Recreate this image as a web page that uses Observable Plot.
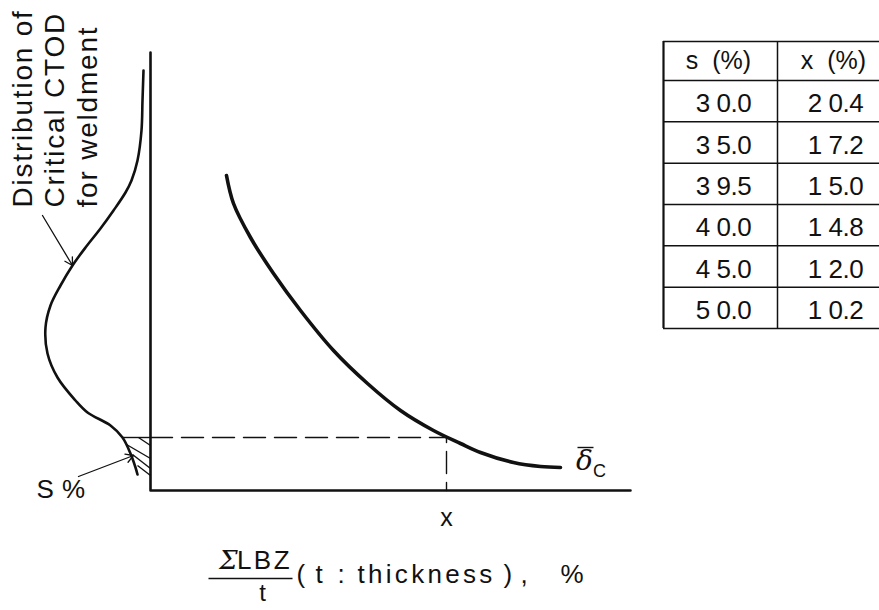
<!DOCTYPE html>
<html>
<head>
<meta charset="utf-8">
<script src="https://cdn.jsdelivr.net/npm/d3@7"></script>
<script src="https://cdn.jsdelivr.net/npm/@observablehq/plot@0.6"></script>
<style>
  html, body { margin: 0; padding: 0; background: #fff; }
</style>
</head>
<body>
<script>
// ---- Data (chart frame: origin at axis corner, y up) ----
const ctodCurve = [[76,315],[83,287],[100,253],[123,217],[150,180],[183,140],[217,107],
  [250,80],[283,60],[310,47],[330,38],[363,28],[390,24],[410,23]];
const distCurve = [[-7,420],[-8,390],[-9,360],[-13,330],[-19,310],[-25,298],[-37,280],
  [-50,262],[-65,243],[-78,225],[-90,205],[-100,185],[-105,163],[-103,137],[-93,113],
  [-75,90],[-63,78],[-40,65],[-28,53],[-20,37],[-15,23],[-13,16]];
const critX = 296, critY = 53;           // x at which the curve meets the S% level
const hatch = [[-12,53,0,45],[-24,46,0,32],[-18,36,0,22],[-13,25,0,15]];
const distLabel = ["Distribution of", "Critical CTOD", "for weldment"];
const tableHeader = ["s\u00a0\u00a0(%)", "x\u00a0\u00a0(%)"];
const sValues = [30.0, 35.0, 39.5, 40.0, 45.0, 50.0];
const xValues = [20.4, 17.2, 15.0, 14.8, 12.0, 10.2];
const bottomPieces = ["(", "t", ":", ")", ",", "%"];

// ---- Layout ----
const fmt = v => { const s = v.toFixed(1); return s[0] + " " + s.slice(1); };
const tblLeft = 513, tblMid = 627, tblRight = 745, tblTop = 449, hdrBottom = 410, rowH = 41.33;
const rowLines = d3.range(7).map(i => hdrBottom - i * rowH);
const hLines = [tblTop, ...rowLines];
const tblBottom = rowLines[6];
const col1 = 573, col2 = 685;
const rows = sValues.map((s, i) => ({s, x: xValues[i], y: hdrBottom - (i + 0.5) * rowH - 3}));
const piecesX = [146, 165, 187, 353, 370, 410];

const ink = "#111";
const sans = "Liberation Sans, Arial, Helvetica, sans-serif";

const shapeMarks = [
  Plot.line([[0,438],[0,0],[480,0]], {x: d => d[0], y: d => d[1], stroke: ink, strokeWidth: 2.6}),
  Plot.line([[0,critY],[critX,critY],[critX,0]], {x: d => d[0], y: d => d[1], stroke: ink, strokeWidth: 1.4, strokeDasharray: "22,9"}),
  Plot.line(ctodCurve, {x: d => d[0], y: d => d[1], curve: "catmull-rom", stroke: ink, strokeWidth: 3.6}),
  Plot.line(distCurve, {x: d => d[0], y: d => d[1], curve: "catmull-rom", stroke: ink, strokeWidth: 2.6}),
  Plot.link([[-28,critY,0,critY], ...hatch], {x1: d => d[0], y1: d => d[1], x2: d => d[2], y2: d => d[3], stroke: ink, strokeWidth: 1.4}),
  Plot.arrow([[-108,275,-78,225]], {x1: d => d[0], y1: d => d[1], x2: d => d[2], y2: d => d[3], stroke: ink, strokeWidth: 1.3, headLength: 10, bend: false}),
  Plot.arrow([[-72,14,-17,35]], {x1: d => d[0], y1: d => d[1], x2: d => d[2], y2: d => d[3], stroke: ink, strokeWidth: 1.3, headLength: 10, bend: false}),
  Plot.link([[427,43,443,43],[58,-88,142,-88]], {x1: d => d[0], y1: d => d[1], x2: d => d[2], y2: d => d[3], stroke: ink, strokeWidth: 1.4}),
  Plot.ruleY(hLines, {x1: tblLeft, x2: tblRight, y: d => d, stroke: ink, strokeWidth: 1.5}),
  Plot.ruleX([tblLeft], {x: d => d, y1: tblBottom, y2: tblTop, stroke: ink, strokeWidth: 2.2}),
  Plot.ruleX([tblMid], {x: d => d, y1: tblBottom, y2: tblTop, stroke: ink, strokeWidth: 1.5})
];

const textMarks = [
  [Plot.text(distLabel, {x: (d, i) => [-127, -95, -62][i], y: 283, text: d => d, rotate: -90, textAnchor: "start", fontSize: 28, fill: ink}), 1.8],
  [Plot.text(["S %"], {x: -114, y: 1, text: d => d, textAnchor: "start", fontSize: 26, fill: ink}), 0.5],
  [Plot.text(["x"], {x: 296, y: -27, text: d => d, fontSize: 25, fill: ink}), 0],
  [Plot.text(["δ"], {x: 434, y: 29, text: d => d, fontSize: 28, fontStyle: "italic", fontFamily: "DejaVu Serif, serif", fill: ink}), 0],
  [Plot.text(["C"], {x: 449, y: 19, text: d => d, fontSize: 18, fill: ink}), 0],
  [Plot.text(["Σ"], {x: 78, y: -70, text: d => d, fontSize: 26, fontStyle: "italic", fontFamily: "DejaVu Serif, serif", fill: ink}), 0],
  [Plot.text(["LBZ"], {x: 114, y: -70, text: d => d, fontSize: 26, fill: ink}), 2.5],
  [Plot.text(["t"], {x: 112, y: -103, text: d => d, fontSize: 24, fill: ink}), 0],
  [Plot.text(bottomPieces, {x: (d, i) => piecesX[i], y: -84, text: d => d, textAnchor: "start", fontSize: 26, fill: ink}), 0],
  [Plot.text(["thickness"], {x: 207, y: -84, text: d => d, textAnchor: "start", fontSize: 26, fill: ink}), 3.3],
  [Plot.text(tableHeader, {x: (d, i) => [568, 683][i], y: 430, text: d => d, fontSize: 25, fill: ink}), 0],
  [Plot.text(rows, {x: col1, y: "y", text: d => fmt(d.s), fontSize: 26, fill: ink}), -0.5],
  [Plot.text(rows, {x: col2, y: "y", text: d => fmt(d.x), fontSize: 26, fill: ink}), -0.5]
];

const chart = Plot.plot({
  width: 879,
  height: 610,
  margin: 0,
  x: {domain: [-150, 729], axis: null},
  y: {domain: [-120, 490], axis: null},
  style: {fontFamily: sans, background: "#fff", overflow: "hidden"},
  marks: [...shapeMarks, ...textMarks.map(d => d[0])]
});

const groups = chart.querySelectorAll('g[aria-label="text"]');
groups.forEach((g, i) => {
  const ls = textMarks[i] ? textMarks[i][1] : 0;
  if (ls) g.setAttribute("letter-spacing", ls + "px");
});

document.body.appendChild(chart);
</script>
</body>
</html>
